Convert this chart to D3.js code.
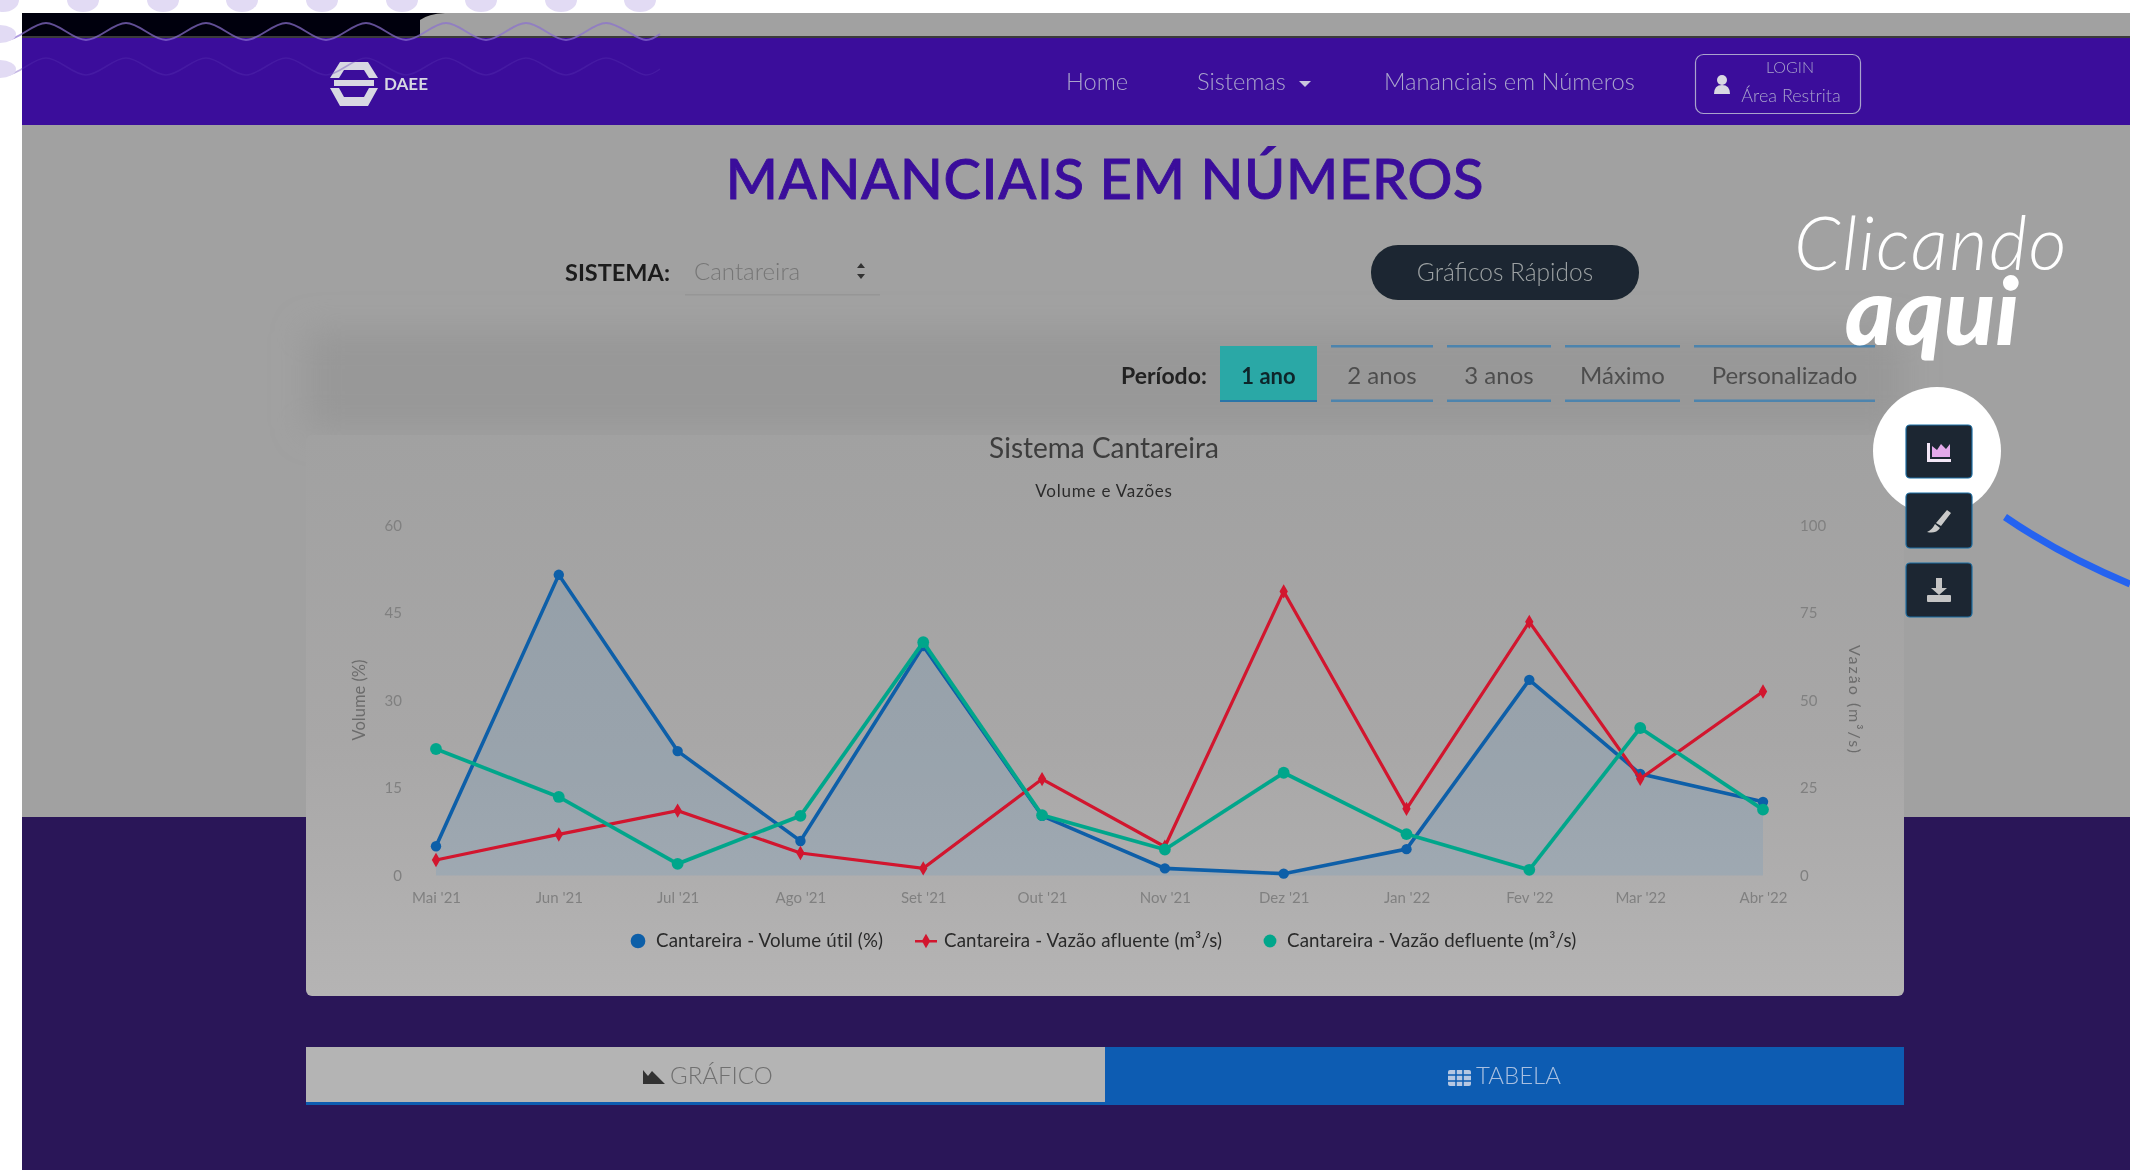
<!DOCTYPE html>
<html lang="pt-BR">
<head>
<meta charset="utf-8">
<title>Mananciais em Números</title>
<style>
html,body{margin:0;padding:0;background:#fff;overflow:hidden}
svg{display:block}
text{font-family:"Lato","Open Sans",sans-serif}
</style>
<script src="https://cdn.jsdelivr.net/npm/d3@7/dist/d3.min.js"></script>
</head>
<body>
<svg id="chart" width="2130" height="1170"></svg>
<script>
// ---- chart data ----
const monthDates = ["2021-05-01","2021-06-01","2021-07-01","2021-08-01","2021-09-01","2021-10-01","2021-11-01","2021-12-01","2022-01-01","2022-02-01","2022-03-01","2022-04-01"];
const monthLabels = ["Mai '21","Jun '21","Jul '21","Ago '21","Set '21","Out '21","Nov '21","Dez '21","Jan '22","Fev '22","Mar '22","Abr '22"];
const volumeUtil = [5.0,51.5,21.3,5.9,39.3,10.2,1.2,0.3,4.5,33.5,17.4,12.6];
const vazaoAfluente = [4.4,11.7,18.5,6.4,2.0,27.5,8.2,81.1,19.0,72.4,27.6,52.5];
const vazaoDefluente = [36.1,22.4,3.3,17.0,66.6,17.2,7.4,29.3,11.8,1.6,42.1,18.8];
const leftTicks = [0,15,30,45,60];
const rightTicks = [0,25,50,75,100];
const legendLabels = ["Cantareira - Volume útil (%)","Cantareira - Vazão afluente (m³/s)","Cantareira - Vazão defluente (m³/s)"];
const periodLabels = ["1 ano","2 anos","3 anos","Máximo","Personalizado"];
const navLabels = ["Home","Sistemas","Mananciais em Números"];

// ---- colours ----
const BLUE="#0f5ea8", RED="#d2142e", GREEN="#06a68b", NAV="#3a0f9b", DARK="#2a1759", PAGE="#a1a1a1", INK="#1b2730";

const svg = d3.select("#chart");
const defs = svg.append("defs");
const blurFilter=(id,sd)=>defs.append("filter").attr("id",id).attr("filterUnits","userSpaceOnUse").attr("x",0).attr("y",0).attr("width",2130).attr("height",1170)
  .append("feGaussianBlur").attr("stdDeviation",sd);
blurFilter("soft",0.65);
blurFilter("wide",16);
const cardGrad = defs.append("linearGradient").attr("id","cardGrad").attr("x1",0).attr("x2",0).attr("y1",0).attr("y2",1);
cardGrad.append("stop").attr("offset","0").attr("stop-color","#a1a1a1");
cardGrad.append("stop").attr("offset","0.55").attr("stop-color","#a8a7a7");
cardGrad.append("stop").attr("offset","1").attr("stop-color","#b5b4b4");

const pageLayer = svg.append("g").attr("filter","url(#soft)");
const rect=(g,x,y,w,h,fill,rx)=>g.append("rect").attr("x",x).attr("y",y).attr("width",w).attr("height",h).attr("fill",fill).attr("rx",rx||0);
const label=(g,x,y,t,size,fill,anchor,weight)=>g.append("text").attr("x",x).attr("y",y).attr("font-size",size).attr("fill",fill).attr("text-anchor",anchor||"start").attr("font-weight",weight||400).text(t);

// page bands
rect(pageLayer,22,13,2108,1157,PAGE);
rect(pageLayer,306,330,1598,100,"#989898",8).attr("filter","url(#wide)");
rect(pageLayer,22,13,398,25,"#050508");
pageLayer.append("path").attr("d","M420 38 L420 20 Q428 14 445 13 L420 13 Z").attr("fill","#050508");
rect(pageLayer,22,36,2108,3,"#3a3a3a");
rect(pageLayer,22,38,2108,87,NAV);
rect(pageLayer,22,817,2108,353,DARK);

// nav
const logo=pageLayer.append("g").attr("fill","#d8d8e2");
logo.append("path").attr("d","M340 62 L368 62 L378 78 L369 78 L364 70 L344 70 L339 78 L330 78 Z");
logo.append("path").attr("d","M330 88 L339 88 L344 97 L364 97 L369 88 L378 88 L368 106 L340 106 Z");
rect(logo,334,80,40,6,"#d8d8e2");
label(pageLayer,384,90,"DAEE",17,"#d8d8e2","start",700);
const navX=[1097,1197,1384];
navLabels.forEach((t,i)=>label(pageLayer,navX[i],90,t,23.7,"#aaa3cc",i===0?"middle":"start",300));
pageLayer.append("path").attr("d","M1299 81 L1311 81 L1305 87 Z").attr("fill","#c9c5dd");
pageLayer.append("rect").attr("x",1695.5).attr("y",54.5).attr("width",165).attr("height",59).attr("rx",8).attr("fill","none").attr("stroke","#aaa3cc").attr("stroke-width",1.2);
label(pageLayer,1790,73,"LOGIN",16,"#aaa3cc","middle",300);
label(pageLayer,1791,102,"Área Restrita",18,"#aaa3cc","middle",300);
pageLayer.append("circle").attr("cx",1722).attr("cy",80).attr("r",5).attr("fill","#d8d8e2");
pageLayer.append("path").attr("d","M1714 94 Q1714 85 1722 85 Q1730 85 1730 94 Z").attr("fill","#d8d8e2");

// heading and controls
label(pageLayer,1105,199,"MANANCIAIS EM NÚMEROS",56,NAV,"middle",500).attr("letter-spacing",0.7).attr("stroke",NAV).attr("stroke-width",0.9);
label(pageLayer,565,281,"SISTEMA:",23.5,"#1d1d1d","start",700);
label(pageLayer,694,280,"Cantareira",24,"#767676","start",300);
pageLayer.append("path").attr("d","M857 268 L865 268 L861 263 Z M857 274 L865 274 L861 279 Z").attr("fill","#333");
rect(pageLayer,685,294,195,1.5,"#969696");
rect(pageLayer,1371,245,268,55,INK,27);
label(pageLayer,1505,281,"Gráficos Rápidos",24.5,"#9da1a4","middle",300);

label(pageLayer,1121,384,"Período:",23,"#222","start",700);
const periodX=[[1220,1317],[1331,1433],[1447,1551],[1565,1680],[1694,1875]];
periodLabels.forEach((t,i)=>{
  const [a,b]=periodX[i];
  if(i===0){ rect(pageLayer,a,346,b-a,56,"#2aa8a6"); rect(pageLayer,a,400,b-a,2,"#2b74a8"); }
  else { rect(pageLayer,a,345,b-a,2.5,"#4d84ad"); rect(pageLayer,a,399.5,b-a,2.5,"#4d84ad"); }
  label(pageLayer,(a+b)/2,384,t,i===0?22:24,i===0?"#10262c":"#4e4e4e","middle",i===0?700:400);
});

// card
rect(pageLayer,306,435,1598,561,"url(#cardGrad)",6);

// ---- chart ----
const parse=d3.utcParse("%Y-%m-%d");
const dates=monthDates.map(parse);
const x=d3.scaleUtc().domain(d3.extent(dates)).range([436,1763]);
const yLeft=d3.scaleLinear().domain([0,60]).range([875.4,525.2]);
const yRight=d3.scaleLinear().domain([0,100]).range([875.4,525.2]);
const chart=pageLayer.append("g");

label(chart,1104,458,"Sistema Cantareira",28,"#3c3c3c","middle");
label(chart,1104,497,"Volume e Vazões",17,"#2c2c2c","middle").attr("letter-spacing",0.8);

const styleAxis=g=>{g.select(".domain").remove();g.selectAll(".tick line").remove();
  g.selectAll("text").attr("fill","#808080").attr("font-size",15).attr("font-family","Lato,sans-serif");};
chart.append("g").attr("transform","translate(0,889)")
  .call(d3.axisBottom(x).tickValues(dates).tickFormat((d,i)=>monthLabels[i]).tickSize(0)).call(styleAxis);
chart.append("g").attr("transform","translate(402,0)")
  .call(d3.axisLeft(yLeft).tickValues(leftTicks).tickSize(0).tickPadding(0)).call(styleAxis);
chart.append("g").attr("transform","translate(1800,0)")
  .call(d3.axisRight(yRight).tickValues(rightTicks).tickSize(0).tickPadding(0)).call(styleAxis);
chart.append("text").attr("transform","translate(365,700) rotate(-90)").attr("text-anchor","middle").attr("font-size",16.5).attr("fill","#6c6c6c").text("Volume (%)");
chart.append("text").attr("transform","translate(1849,700) rotate(90)").attr("text-anchor","middle").attr("font-size",16).attr("fill","#6c6c6c").attr("letter-spacing",2).text("Vazão (m³/s)");

const pts=(vals,y)=>vals.map((v,i)=>[x(dates[i]),y(v)]);
chart.append("path").attr("d",d3.area().x(d=>d[0]).y0(yLeft(0)).y1(d=>d[1])(pts(volumeUtil,yLeft))).attr("fill","#4a90c8").attr("fill-opacity",0.16);

const series=[
 {vals:volumeUtil,y:yLeft,color:BLUE,sym:d3.symbolCircle,size:85,w:3.6},
 {vals:vazaoAfluente,y:yRight,color:RED,sym:d3.symbolDiamond,size:60,w:3.2},
 {vals:vazaoDefluente,y:yRight,color:GREEN,sym:d3.symbolCircle,size:110,w:3.8}
];
series.forEach(s=>{
  const p=pts(s.vals,s.y);
  chart.append("path").attr("d",d3.line()(p)).attr("fill","none").attr("stroke",s.color).attr("stroke-width",s.w);
  chart.append("g").selectAll("path").data(p).join("path")
    .attr("transform",d=>`translate(${d[0]},${d[1]})`).attr("d",d3.symbol(s.sym,s.size)()).attr("fill",s.color);
});

// legend
const legendX=[656,944,1287], markerX=[638,926,1270];
legendLabels.forEach((t,i)=>{
  const s=series[i];
  if(i===1) rect(chart,markerX[i]-11,940,22,2.5,s.color);
  chart.append("path").attr("transform",`translate(${markerX[i]},941)`).attr("d",d3.symbol(s.sym,i===0?170:i===1?60:130)()).attr("fill",s.color);
  label(chart,legendX[i],947,t,18.7,"#2a2a2a").attr("letter-spacing",0.15);
});

// tabs
rect(pageLayer,306,1047,799,56,"#b4b4b4");
rect(pageLayer,306,1102,799,3,"#0a5cb0");
rect(pageLayer,1105,1047,799,58,"#0a5cb2");
label(pageLayer,670,1084,"GRÁFICO",24,"#6f6f6f","start",300);
label(pageLayer,1476,1084,"TABELA",24,"#a9bfe0","start",300);
pageLayer.append("path").attr("d","M643 1084 L643 1070 L648 1076 L652 1071 L665 1084 Z").attr("fill","#333");
rect(pageLayer,1448,1070,23,16,"#b6c7e2",2);
pageLayer.append("path").attr("d","M1448 1075 H1471 M1448 1081 H1471 M1456 1070 V1086 M1463 1070 V1086").attr("stroke","#0a5cb2").attr("stroke-width",1.5);

// overlay
const overlay=svg.append("g");
overlay.append("circle").attr("cx",1937).attr("cy",451).attr("r",64).attr("fill","#fff");
const sideButtons=overlay.append("g").attr("filter","url(#soft)");
[[425,53],[493,55],[563,54]].forEach(([y,h])=>{
  rect(sideButtons,1906,y,66,h,INK,4).attr("stroke","#1c6ea4").attr("stroke-width",1.2);
});
sideButtons.append("path").attr("d","M1927 443 H1930 V459 H1951 V462 H1927 Z").attr("fill","#f2e6f6");
sideButtons.append("path").attr("d","M1932 457 V446 L1937 450 L1941 444 L1946 449 L1950 444 V457 Z").attr("fill","#e3a9ea");
sideButtons.append("path").attr("d","M1947 510 L1951 513 L1941 526 L1936 523 Z M1935 524 L1940 528 Q1936 534 1927 532 Q1932 530 1935 524 Z").attr("fill","#c9c9c9");
sideButtons.append("path").attr("d","M1936 578 H1942 V588 H1947 L1939 595 L1931 588 H1936 Z").attr("fill","#c4c4c4");
rect(sideButtons,1927,595,24,7,"#c4c4c4",1);

label(overlay,1931,270,"Clicando",74,"#fff","middle",300).attr("font-style","italic").attr("letter-spacing",1.5);
label(overlay,1932,345,"aqui",94,"#fff","middle",900).attr("font-style","italic");
overlay.append("path").attr("d","M2005 517 Q2062 556 2130 584").attr("fill","none").attr("stroke","#2563f0").attr("stroke-width",7);

// decorative waves on the left and top edge
const waveLine=d3.line().curve(d3.curveCatmullRom);
const waveTops=[[-34,23],[6,40],[46,23],[86,40],[126,23],[166,40],[206,23],[246,40],[286,23],[326,40],[366,23],[406,40],[446,23],[486,40],[526,23],[566,40],[606,23],[646,40],[660,34]];
overlay.append("path").attr("d",waveLine(waveTops)).attr("fill","none").attr("stroke","#8a6fd0").attr("stroke-width",2).attr("stroke-opacity",.7);
overlay.append("path").attr("d",waveLine(waveTops.map(d=>[d[0],d[1]+35]))).attr("fill","none").attr("stroke","#5a33b3").attr("stroke-width",1.5).attr("stroke-opacity",.35);
[3,83,163,242,322,402,481,561,640].forEach(c=>{
  overlay.append("ellipse").attr("cx",c).attr("cy",0).attr("rx",16).attr("ry",12).attr("fill","#e2dbf4");
});
[[0,34],[0,69]].forEach(([c,y])=>overlay.append("ellipse").attr("cx",c).attr("cy",y).attr("rx",16).attr("ry",9).attr("fill","#e2dbf4"));
</script>
</body>
</html>
